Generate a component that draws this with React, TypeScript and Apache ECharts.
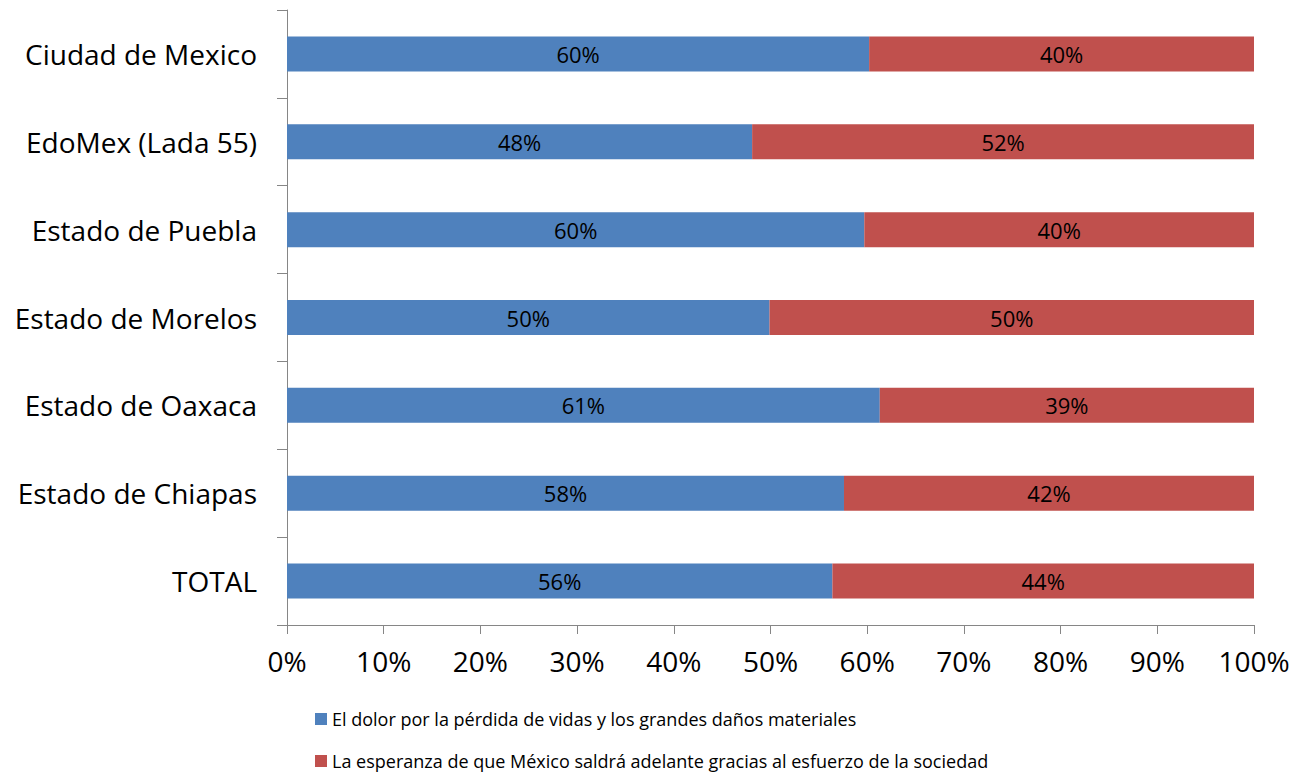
import React, { useEffect, useRef } from "react";
import * as echarts from "echarts";

const categories = [
  "Ciudad de Mexico",
  "EdoMex (Lada 55)",
  "Estado de Puebla",
  "Estado de Morelos",
  "Estado de Oaxaca",
  "Estado de Chiapas",
  "TOTAL",
];
const seriesNames = [
  "El dolor por la pérdida de vidas y los grandes daños materiales",
  "La esperanza de que México saldrá adelante gracias al esfuerzo de la sociedad",
];
const dolor = [60.2, 48.1, 59.7, 49.9, 61.3, 57.6, 56.4];
const esperanza = [39.8, 51.9, 40.3, 50.1, 38.7, 42.4, 43.6];
const colors = ["#4F81BD", "#C0504D"];

const FONT = "'Open Sans', 'Noto Sans', sans-serif";

export default function App() {
  const ref = useRef<HTMLDivElement>(null);
  useEffect(() => {
    if (!ref.current) return;
    const chart = echarts.init(ref.current, undefined, { renderer: "svg" });
    const axisColor = "#868686";
    const mk = (name: string, data: number[], color: string) => ({
      name,
      type: "bar",
      stack: "total",
      data,
      barWidth: 35,
      itemStyle: { color },
      label: {
        show: true,
        position: "inside",
        color: "#000",
        fontFamily: FONT,
        fontSize: 22,
        formatter: (p: any) => Math.round(p.value) + "%",
      },
    });
    const legendBase = {
      orient: "horizontal",
      left: 312,
      itemWidth: 12,
      itemHeight: 12,
      icon: "rect",
      padding: 3,
      textStyle: { fontSize: 18, color: "#000", fontFamily: FONT },
    };
    chart.setOption({
      animation: false,
      textStyle: { fontFamily: FONT },
      grid: { left: 287, right: 43, top: 10, bottom: 150, containLabel: false },
      xAxis: {
        type: "value",
        min: 0,
        max: 100,
        interval: 10,
        axisLine: { show: true, lineStyle: { color: axisColor, width: 1 } },
        axisTick: { show: true, length: 9, lineStyle: { color: axisColor } },
        splitLine: { show: false },
        axisLabel: {
          formatter: "{value}%",
          color: "#000",
          fontSize: 28,
          fontFamily: FONT,
          margin: 22,
        },
      },
      yAxis: {
        type: "category",
        data: categories,
        inverse: true,
        axisLine: { show: true, lineStyle: { color: axisColor, width: 1 } },
        axisTick: { show: true, length: 10, alignWithLabel: false, lineStyle: { color: axisColor } },
        axisLabel: {
          color: "#000",
          fontSize: 28,
          fontFamily: FONT,
          margin: 30,
        },
      },
      legend: [
        { ...legendBase, top: 707, data: [seriesNames[0]] },
        { ...legendBase, top: 749, data: [seriesNames[1]] },
      ],
      series: [mk(seriesNames[0], dolor, colors[0]), mk(seriesNames[1], esperanza, colors[1])],
    });
    return () => chart.dispose();
  }, []);
  return <div ref={ref} style={{ width: 1297, height: 775, position: "absolute", left: 0, top: 0 }} />;
}
